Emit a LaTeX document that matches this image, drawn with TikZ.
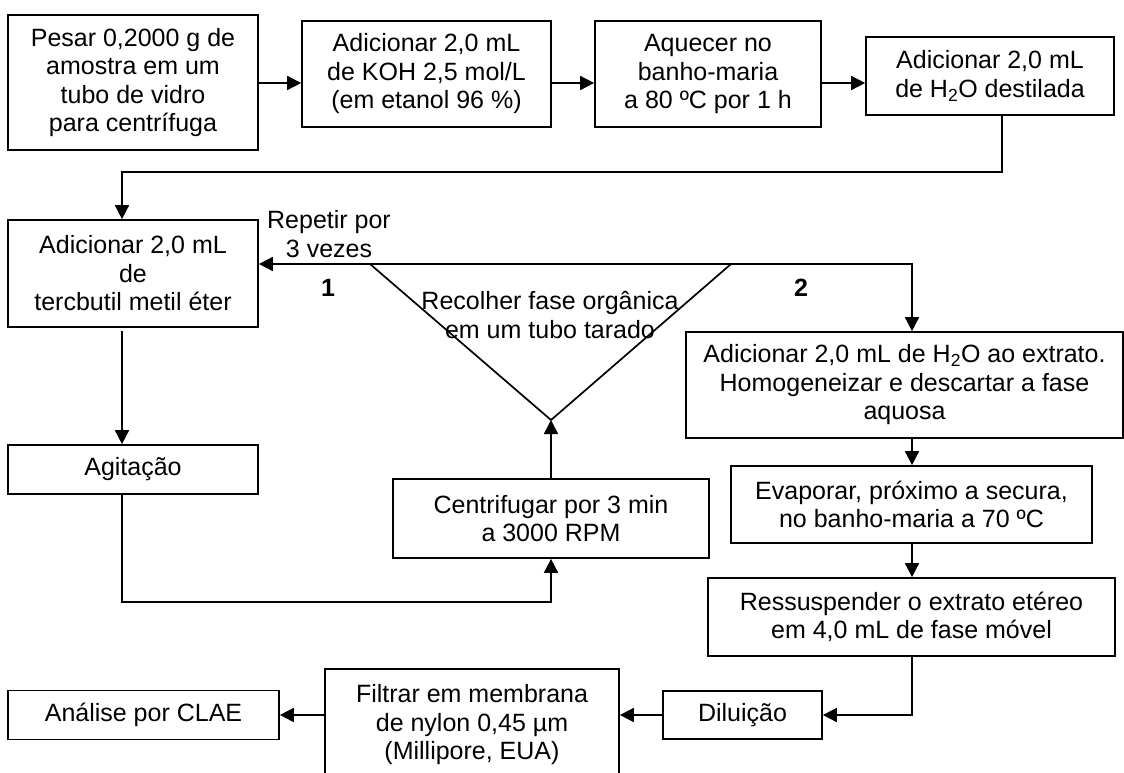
\documentclass[tikz,border=0pt]{standalone}
\usepackage{fontspec}
\setmainfont{Liberation Sans}
\usetikzlibrary{arrows.meta,calc}
\begin{document}
\begin{tikzpicture}[x=1pt,y=-1pt,
  every node/.style={font=\fontsize{25}{28.5}\selectfont},
  box/.style={draw,line width=1.7pt,inner sep=0pt,align=center},
  conn/.style={line width=1.7pt},
  arr/.style={conn,-{Triangle[length=14pt,width=14pt]}},
  numlbl/.style={font=\fontsize{25}{28.5}\selectfont\bfseries}
]
\useasboundingbox (0,0) rectangle (1124,772);

% top row
\node[box,minimum width=250pt,minimum height=135pt] (pesar) at (133,82.5) {Pesar 0,2000 g de\\amostra em um\\tubo de vidro\\para centrífuga};
\node[box,minimum width=249pt,minimum height=106pt] (koh) at (426.5,74) {Adicionar 2,0 mL\\de KOH 2,5 mol/L\\(em etanol 96 \%)};
\node[box,minimum width=226pt,minimum height=106pt] (aquecer) at (708,74) {Aquecer no\\banho-maria\\a 80 ºC por 1 h};
\node[box,minimum width=248pt,minimum height=78pt] (h2o) at (990,76) {Adicionar 2,0 mL\\de H\textsubscript{2}O destilada};

% left column
\node[box,minimum width=250pt,minimum height=107pt] (tbme) at (133,273.5) {Adicionar 2,0 mL\\de\\tercbutil metil éter};
\node[box,minimum width=250pt,minimum height=49pt] (agit) at (133,469.5) {Agitação};
\node[box,minimum width=316pt,minimum height=79pt] (centr) at (551,518.5) {Centrifugar por 3 min\\a 3000 RPM};

% right column
\node[box,minimum width=437pt,minimum height=106pt] (extr) at (904.5,385) {Adicionar 2,0 mL de H\textsubscript{2}O ao extrato.\\Homogeneizar e descartar a fase\\aquosa};
\node[box,minimum width=361pt,minimum height=77pt] (evap) at (911.5,504.5) {Evaporar, próximo a secura,\\no banho-maria a 70 ºC};
\node[box,minimum width=407pt,minimum height=78pt] (ress) at (911.5,617) {Ressuspender o extrato etéreo\\em 4,0 mL de fase móvel};

% bottom row
\node[box,minimum width=159pt,minimum height=48pt] (dil) at (742.5,715) {Diluição};
\node[box,minimum width=294pt,minimum height=112pt] (filt) at (472,725) {Filtrar em membrana\\de nylon 0,45 µm\\(Millipore, EUA)};
\node[box,minimum width=271pt,minimum height=49pt] (anal) at (143.5,715) {Análise por CLAE};

% labels
\node[align=center] (rep) at (329,234) {Repetir por\\3 vezes};
\node[numlbl] (n1) at (328,288) {1};
\node[numlbl] (n2) at (801,288) {2};
\node[align=center] (rec) at (550,315) {Recolher fase orgânica\\em um tubo tarado};

% helper coordinates
\coordinate (row) at (0,83);
\coordinate (d1) at (1002,172);
\coordinate (d2) at (122,172);
\coordinate (b1) at (122,602);
\coordinate (tl) at (370,264);
\coordinate (tr) at (731,264);
\coordinate (tb) at (551,420);
\coordinate (r6) at (912,264);
\coordinate (q) at (912,715);

% top row arrows
\draw[arr] (pesar.east |- row) -- (koh.west |- row);
\draw[arr] (koh.east |- row) -- (aquecer.west |- row);
\draw[arr] (aquecer.east |- row) -- (h2o.west |- row);

% down to tbme
\draw[arr] (h2o.south -| d1) -- (d1) -- (d2) -- (tbme.north -| d2);

% left column
\draw[arr] ([yshift=-3pt]tbme.south -| d2) -- (agit.north -| d2);
\draw[arr] (agit.south -| b1) -- (b1) -| (centr.south);
\draw[arr] (centr.north) -- (tb);

% triangle
\draw[conn] (tl) -- (tb) -- (tr);
\draw[arr] (tr) -- (tbme.east |- tr);
\draw[arr] (tr) -- (r6) -- (extr.north -| r6);

% right column
\draw[arr] (extr.south -| r6) -- (evap.north -| r6);
\draw[arr] (evap.south -| r6) -- (ress.north -| r6);
\draw[arr] (ress.south -| q) -- (q) -- (dil.east |- q);

% bottom row
\draw[arr] (dil.west) -- (filt.east |- dil.west);
\draw[arr] (filt.west |- dil.west) -- (anal.east |- dil.west);
\end{tikzpicture}
\end{document}
